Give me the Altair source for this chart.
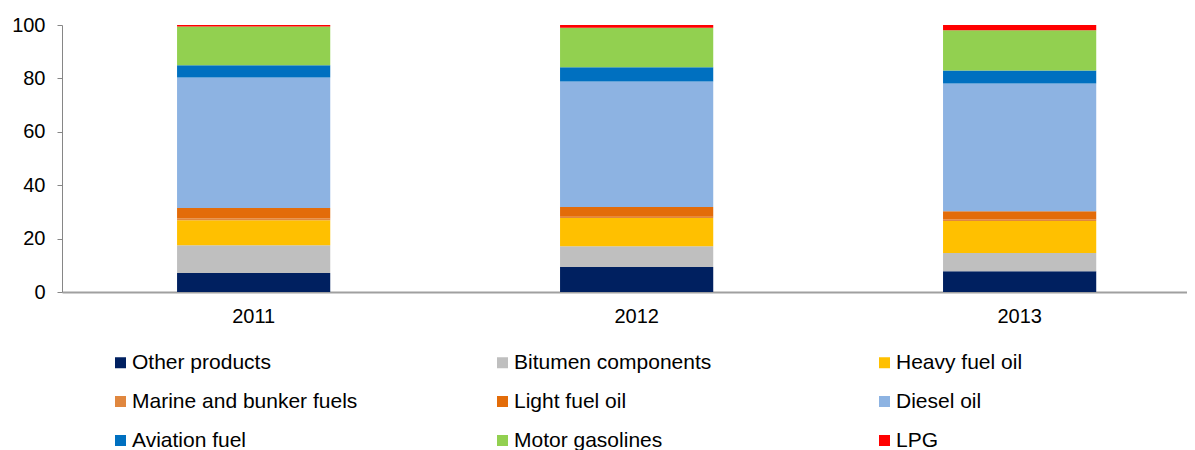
import altair as alt
import pandas as pd

years = ["2011", "2012", "2013"]
products = [
    "Other products", "Bitumen components", "Heavy fuel oil",
    "Marine and bunker fuels", "Light fuel oil", "Diesel oil",
    "Aviation fuel", "Motor gasolines", "LPG",
]
colors = ["#002060", "#BFBFBF", "#FFC000", "#E0873F", "#E36C09",
          "#8DB3E2", "#0070C0", "#92D050", "#FF0000"]

other_products = [7.1, 9.4, 7.8]
bitumen_components = [10.4, 7.7, 6.8]
heavy_fuel_oil = [9.4, 10.6, 12.0]
marine_bunker = [0.6, 0.5, 0.6]
light_fuel_oil = [4.0, 3.6, 3.0]
diesel_oil = [48.8, 47.0, 47.9]
aviation_fuel = [4.6, 5.4, 4.9]
motor_gasolines = [14.5, 14.8, 15.0]
lpg = [0.6, 1.0, 2.0]

series = [other_products, bitumen_components, heavy_fuel_oil, marine_bunker,
          light_fuel_oil, diesel_oil, aviation_fuel, motor_gasolines, lpg]

rows = []
for i, (p, vals) in enumerate(zip(products, series)):
    for y, v in zip(years, vals):
        rows.append({"year": y, "product": p, "value": v, "idx": i})
df = pd.DataFrame(rows)

FONT = "Liberation Sans"

chart = alt.Chart(df).mark_bar().encode(
    x=alt.X("year:N", title=None,
            scale=alt.Scale(paddingInner=0.6, paddingOuter=0.2687, align=0.559),
            axis=alt.Axis(labelAngle=0, labelFontSize=20, labelFont=FONT,
                          labelColor="#000000", ticks=False, labelPadding=14,
                          domainColor="#A0A0A0", domainWidth=2)),
    y=alt.Y("value:Q", title=None, stack="zero",
            scale=alt.Scale(domain=[0, 100], nice=False),
            axis=alt.Axis(values=[0, 20, 40, 60, 80, 100], grid=False,
                          labelFontSize=20, labelFont=FONT, labelColor="#000000",
                          tickSize=5, tickColor="#868686", domainColor="#868686",
                          labelPadding=12)),
    color=alt.Color("product:N",
                    scale=alt.Scale(domain=products, range=colors),
                    legend=alt.Legend(title=None, orient="none",
                                      legendX=48, legendY=327,
                                      direction="horizontal", columns=3,
                                      symbolType="square", symbolSize=121,
                                      symbolStrokeWidth=0,
                                      labelFontSize=21, labelFont=FONT,
                                      labelColor="#000000", labelLimit=400,
                                      labelOffset=1, columnPadding=134,
                                      rowPadding=17, gridAlign="all")),
    order=alt.Order("idx:Q", sort="ascending"),
).properties(
    width=1125, height=267,
    autosize=alt.AutoSizeParams(type="none"),
    padding={"left": 54, "top": 17, "right": 0, "bottom": 166},
).configure_view(stroke=None)

chart.save("out.html", embed_options={"renderer": "svg", "actions": False})
